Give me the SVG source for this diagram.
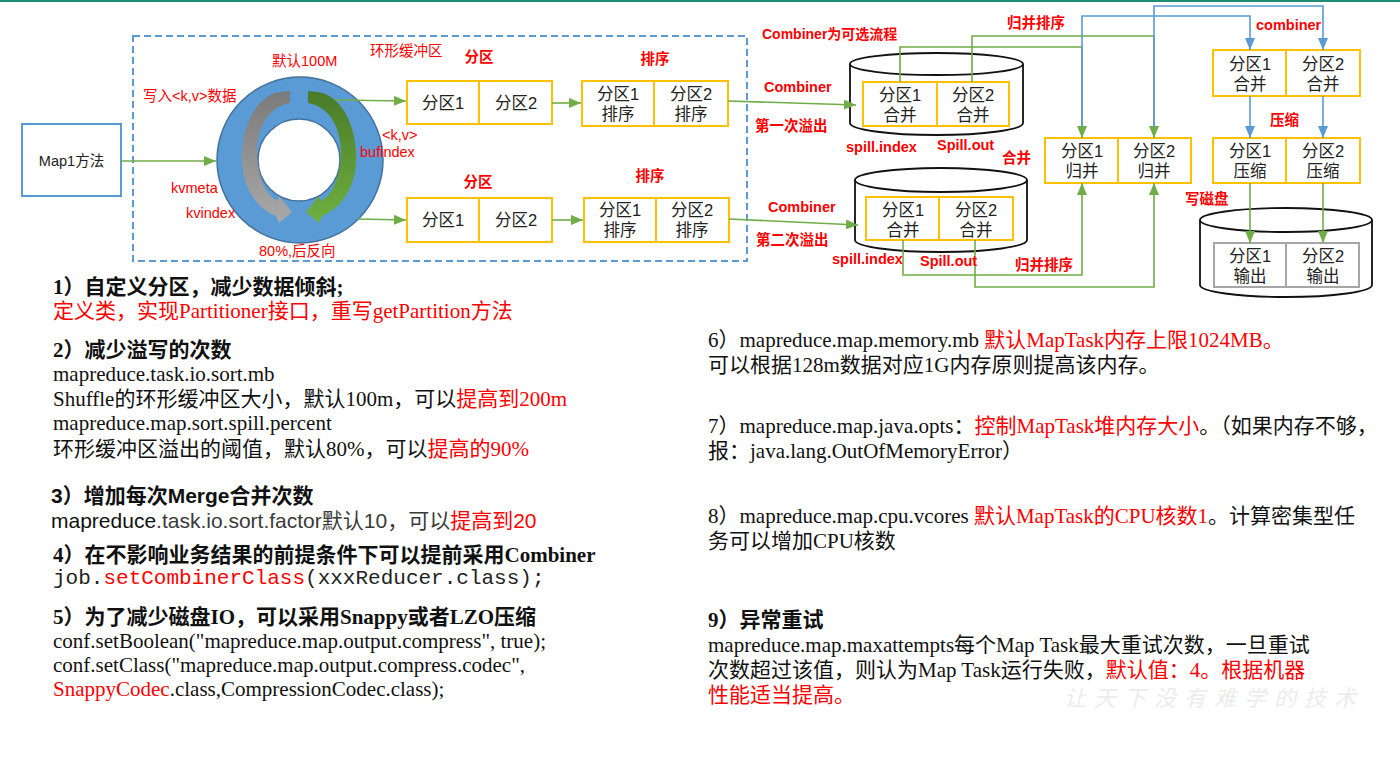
<svg xmlns="http://www.w3.org/2000/svg" width="1400" height="766" viewBox="0 0 1400 766">
<defs>
<style>
.lbl{font-family:"Liberation Sans","Noto Sans CJK SC",sans-serif;font-size:14.5px;fill:#ff0000}
.lb{font-weight:bold}
.box{fill:#fff;stroke:#ffc000;stroke-width:2}
.obox{fill:#fff;stroke:#a6a6a6;stroke-width:2}
.bt{font-family:"Liberation Sans","Noto Sans CJK SC",sans-serif;font-size:16.5px;fill:#222;text-anchor:middle}
.g{stroke:#70ad47;stroke-width:1.6;fill:none}
.b{stroke:#5b9bd5;stroke-width:1.6;fill:none}
.disk{fill:#fff;stroke:#111;stroke-width:1.8}
.body{font-family:"Liberation Serif","Noto Sans CJK SC",serif;font-size:21px;fill:#111}
.bodyr{font-family:"Liberation Serif","Noto Sans CJK SC",serif;font-size:21px;fill:#111}
.sans{font-family:"Liberation Sans","Noto Sans CJK SC",sans-serif;font-size:21px;fill:#111}
.mono{font-family:"Liberation Mono","Noto Sans CJK SC",monospace;font-size:21px;fill:#222}
.bold{font-weight:bold}
.r{fill:#ff0000}
</style>
<marker id="ag" markerUnits="userSpaceOnUse" markerWidth="12" markerHeight="10" refX="12" refY="5" orient="auto"><path d="M0,0 L12,5 L0,10 z" fill="#70ad47"/></marker>
<marker id="ab" markerUnits="userSpaceOnUse" markerWidth="12" markerHeight="10" refX="12" refY="5" orient="auto"><path d="M0,0 L12,5 L0,10 z" fill="#5b9bd5"/></marker>
<linearGradient id="gg" x1="0" y1="0" x2="0" y2="1"><stop offset="0" stop-color="#7a7a7a"/><stop offset="1" stop-color="#a9a9a9"/></linearGradient>
<linearGradient id="gr" x1="0" y1="0" x2="0" y2="1"><stop offset="0" stop-color="#4a7a28"/><stop offset="1" stop-color="#6fb040"/></linearGradient>
<path id="carrow" d="M290,91 L290,103 C262,108 254,140 258,165 C261,185 268,196 277,201 L279,196 L292,212 L279,223 L276,216 C252,206 240,180 242,152 C244,118 260,95 280,92 Z"/>
</defs>
<rect x="0" y="0" width="1400" height="2" fill="#1e8c76"/>

<g id="buffer-frame">
<rect x="133" y="36" width="614" height="225" fill="none" stroke="#5b9bd5" stroke-width="2" stroke-dasharray="7,4"/>
</g>

<g id="map1">
<rect x="22" y="124" width="99" height="72" fill="#fff" stroke="#5b9bd5" stroke-width="2"/>
<text x="71.5" y="166" class="bt" style="font-size:14.5px">Map1方法</text>
</g>

<g id="ring">
<circle cx="300" cy="160" r="83" fill="#5b9bd5" stroke="#41719c" stroke-width="1.5"/>
<circle cx="299" cy="160" r="41" fill="#fff" stroke="#41719c" stroke-width="1.5"/>
<use href="#carrow" fill="url(#gg)"/>
<use href="#carrow" fill="url(#gr)" transform="translate(598,0) scale(-1,1)"/>
</g>

<g id="ring-labels" class="lbl">
<text x="272" y="66">默认100M</text>
<text x="370" y="56">环形缓冲区</text>
<text x="143" y="101">写入&lt;k,v&gt;数据</text>
<text x="171" y="193">kvmeta</text>
<text x="186" y="218">kvindex</text>
<text x="259" y="256">80%,后反向</text>
<text x="382" y="140">&lt;k,v&gt;</text>
<text x="360" y="157">bufindex</text>
</g>

<g id="partition-top">
<rect x="407" y="81" width="145" height="43" class="box"/>
<line x1="479" y1="81" x2="479" y2="124" stroke="#ffc000" stroke-width="2"/>
<text x="443" y="109" class="bt">分区1</text>
<text x="516" y="109" class="bt">分区2</text>
</g>
<g id="sort-top">
<rect x="582" y="81" width="146" height="45" class="box"/>
<line x1="654" y1="81" x2="654" y2="126" stroke="#ffc000" stroke-width="2"/>
<text x="618" y="100" class="bt">分区1</text><text x="618" y="120" class="bt">排序</text>
<text x="691" y="100" class="bt">分区2</text><text x="691" y="120" class="bt">排序</text>
</g>
<g id="partition-bottom">
<rect x="407" y="198" width="145" height="44" class="box"/>
<line x1="479" y1="198" x2="479" y2="242" stroke="#ffc000" stroke-width="2"/>
<text x="443" y="226" class="bt">分区1</text>
<text x="516" y="226" class="bt">分区2</text>
</g>
<g id="sort-bottom">
<rect x="584" y="198" width="145" height="44" class="box"/>
<line x1="656" y1="198" x2="656" y2="242" stroke="#ffc000" stroke-width="2"/>
<text x="620" y="216" class="bt">分区1</text><text x="620" y="236" class="bt">排序</text>
<text x="692" y="216" class="bt">分区2</text><text x="692" y="236" class="bt">排序</text>
</g>

<g id="disk1">
<path d="M850,64 L850,123 A86.5,12 0 0 0 1023,123 L1023,64" class="disk"/>
<ellipse cx="936.5" cy="64" rx="86.5" ry="11" class="disk"/>
<rect x="863" y="82" width="146" height="44" class="box"/>
<line x1="937" y1="82" x2="937" y2="126" stroke="#ffc000" stroke-width="2"/>
<text x="900" y="100.5" class="bt">分区1</text><text x="900" y="120.5" class="bt">合并</text>
<text x="973" y="100.5" class="bt">分区2</text><text x="973" y="120.5" class="bt">合并</text>
</g>
<g id="disk2">
<path d="M855,180 L855,240 A86,12 0 0 0 1027,240 L1027,180" class="disk"/>
<ellipse cx="941" cy="180" rx="86" ry="12" class="disk"/>
<rect x="866" y="197" width="147" height="43" class="box"/>
<line x1="939" y1="197" x2="939" y2="240" stroke="#ffc000" stroke-width="2"/>
<text x="903" y="215.5" class="bt">分区1</text><text x="903" y="235.5" class="bt">合并</text>
<text x="976" y="215.5" class="bt">分区2</text><text x="976" y="235.5" class="bt">合并</text>
</g>

<g id="merge">
<rect x="1045" y="138" width="146" height="45" class="box"/>
<line x1="1118" y1="138" x2="1118" y2="183" stroke="#ffc000" stroke-width="2"/>
<text x="1082" y="157" class="bt">分区1</text><text x="1082" y="177" class="bt">归并</text>
<text x="1154" y="157" class="bt">分区2</text><text x="1154" y="177" class="bt">归并</text>
</g>
<g id="combine">
<rect x="1213" y="50" width="147" height="46" class="box"/>
<line x1="1286" y1="50" x2="1286" y2="96" stroke="#ffc000" stroke-width="2"/>
<text x="1250" y="70" class="bt">分区1</text><text x="1250" y="90" class="bt">合并</text>
<text x="1323" y="70" class="bt">分区2</text><text x="1323" y="90" class="bt">合并</text>
</g>
<g id="compress">
<rect x="1213" y="138" width="147" height="45" class="box"/>
<line x1="1286" y1="138" x2="1286" y2="183" stroke="#ffc000" stroke-width="2"/>
<text x="1250" y="157" class="bt">分区1</text><text x="1250" y="177" class="bt">压缩</text>
<text x="1323" y="157" class="bt">分区2</text><text x="1323" y="177" class="bt">压缩</text>
</g>
<g id="disk3">
<path d="M1200,220 L1200,285 A86,12 0 0 0 1372,285 L1372,220" class="disk"/>
<ellipse cx="1286" cy="220" rx="86" ry="12" class="disk"/>
<rect x="1214" y="243" width="145" height="44" class="obox"/>
<line x1="1286" y1="243" x2="1286" y2="287" stroke="#a6a6a6" stroke-width="2"/>
<text x="1250" y="262" class="bt">分区1</text><text x="1250" y="282" class="bt">输出</text>
<text x="1323" y="262" class="bt">分区2</text><text x="1323" y="282" class="bt">输出</text>
</g>

<g id="connectors">
<line x1="121" y1="161" x2="216" y2="161" class="g" marker-end="url(#ag)"/>
<line x1="335" y1="100" x2="406" y2="101" class="g" marker-end="url(#ag)"/>
<line x1="358" y1="219" x2="406" y2="220" class="g" marker-end="url(#ag)"/>
<line x1="552" y1="103" x2="581" y2="103" class="g" marker-end="url(#ag)"/>
<line x1="552" y1="220" x2="583" y2="220" class="g" marker-end="url(#ag)"/>
<line x1="728" y1="101" x2="856" y2="105" class="g" marker-end="url(#ag)"/>
<line x1="729" y1="219" x2="858" y2="225" class="g" marker-end="url(#ag)"/>
<polyline points="900,82 900,47 1082,47 1082,138" class="g" marker-end="url(#ag)"/>
<polyline points="972,82 972,36 1154,36 1154,138" class="g" marker-end="url(#ag)"/>
<polyline points="903,240 903,275 1082,275 1082,183" class="g" marker-end="url(#ag)"/>
<polyline points="975,240 975,287 1154,287 1154,183" class="g" marker-end="url(#ag)"/>
<polyline points="1082,127 1082,16 1250,16 1250,50" class="b" marker-end="url(#ab)"/>
<polyline points="1154,127 1154,6 1323,6 1323,50" class="b" marker-end="url(#ab)"/>
<line x1="1250" y1="96" x2="1250" y2="138" class="b" marker-end="url(#ab)"/>
<line x1="1323" y1="96" x2="1323" y2="138" class="b" marker-end="url(#ab)"/>
<line x1="1250" y1="183" x2="1250" y2="243" class="g" marker-end="url(#ag)"/>
<line x1="1323" y1="183" x2="1323" y2="243" class="g" marker-end="url(#ag)"/>
</g>

<g id="flow-labels" class="lbl lb">
<text x="479" y="62" text-anchor="middle">分区</text>
<text x="655" y="64" text-anchor="middle">排序</text>
<text x="478" y="187" text-anchor="middle">分区</text>
<text x="650" y="181" text-anchor="middle">排序</text>
<text x="762" y="39" style="font-size:14px">Combiner为可选流程</text>
<text x="1007" y="28">归并排序</text>
<text x="764" y="92">Combiner</text>
<text x="755" y="131">第一次溢出</text>
<text x="846" y="152">spill.index</text>
<text x="937" y="150">Spill.out</text>
<text x="1002" y="163">合并</text>
<text x="768" y="212">Combiner</text>
<text x="756" y="245">第二次溢出</text>
<text x="832" y="264">spill.index</text>
<text x="920" y="266">Spill.out</text>
<text x="1015" y="270">归并排序</text>
<text x="1256" y="30">combiner</text>
<text x="1270" y="125">压缩</text>
<text x="1185" y="204">写磁盘</text>
</g>

<g id="notes-left">
<text x="53" y="294" class="body bold">1）自定义分区，减少数据倾斜;</text>
<text x="53" y="318" class="body r">定义类，实现Partitioner接口，重写getPartition方法</text>
<text x="53" y="357" class="body bold">2）减少溢写的次数</text>
<text x="53" y="381" class="body">mapreduce.task.io.sort.mb</text>
<text x="53" y="406" class="body">Shuffle的环形缓冲区大小，默认100m，可以<tspan class="r">提高到200m</tspan></text>
<text x="53" y="430" class="body">mapreduce.map.sort.spill.percent</text>
<text x="53" y="456" class="body">环形缓冲区溢出的阈值，默认80%，可以<tspan class="r">提高的90%</tspan></text>
<text x="51" y="503" class="sans bold">3）增加每次Merge合并次数</text>
<text x="51" y="528" class="sans">mapreduce<tspan fill="#3a3a3a">.task.io.sort.factor默认10，可以</tspan><tspan class="r">提高到20</tspan></text>
<text x="53" y="562" class="body bold">4）在不影响业务结果的前提条件下可以提前采用Combiner</text>
<text x="53" y="584" class="mono">job.<tspan class="r">setCombinerClass</tspan>(xxxReducer.class);</text>
<text x="53" y="624" class="body bold">5）为了减少磁盘IO，可以采用Snappy或者LZO压缩</text>
<text x="53" y="648" class="body">conf.setBoolean("mapreduce.map.output.compress", true);</text>
<text x="53" y="672" class="body">conf.setClass("mapreduce.map.output.compress.codec",</text>
<text x="53" y="696" class="body"><tspan class="r">SnappyCodec</tspan>.class,CompressionCodec.class);</text>
</g>

<g id="notes-right">
<text x="708" y="347" class="bodyr">6）mapreduce.map.memory.mb <tspan class="r">默认MapTask内存上限1024MB。</tspan></text>
<text x="708" y="372" class="bodyr">可以根据128m数据对应1G内存原则提高该内存。</text>
<text x="708" y="433" class="bodyr">7）mapreduce.map.java.opts：<tspan class="r">控制MapTask堆内存大小</tspan>。（如果内存不够，</text>
<text x="708" y="458" class="bodyr">报：java.lang.OutOfMemoryError）</text>
<text x="708" y="523" class="bodyr">8）mapreduce.map.cpu.vcores <tspan class="r">默认MapTask的CPU核数1</tspan>。计算密集型任</text>
<text x="708" y="548" class="bodyr">务可以增加CPU核数</text>
<text x="708" y="627" class="bodyr bold">9）异常重试</text>
<text x="708" y="652" class="bodyr">mapreduce.map.maxattempts每个Map Task最大重试次数，一旦重试</text>
<text x="708" y="677" class="bodyr">次数超过该值，则认为Map Task运行失败，<tspan class="r">默认值：4。根据机器</tspan></text>
<text x="708" y="702" class="bodyr r">性能适当提高。</text>
</g>

<g id="watermark">
<text x="1064" y="706" font-family="'Noto Sans CJK SC',sans-serif" font-size="22" font-style="italic" letter-spacing="8" fill="#ececec">让天下没有难学的技术</text>
</g>
</svg>
